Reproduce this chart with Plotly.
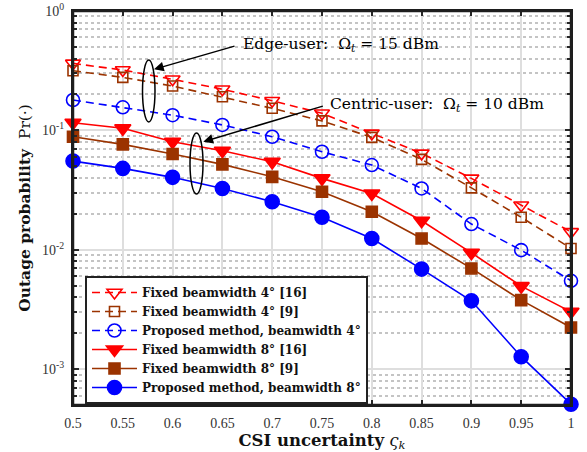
import plotly.graph_objects as go

x_vals = [0.5, 0.55, 0.6, 0.65, 0.7, 0.75, 0.8, 0.85, 0.9, 0.95, 1.0]
x_labels = ["0.5", "0.55", "0.6", "0.65", "0.7", "0.75", "0.8", "0.85", "0.9", "0.95", "1"]
y_tickvals = [1e-3, 1e-2, 1e-1, 1]
y_ticktext = ["10<sup>-3</sup>", "10<sup>-2</sup>", "10<sup>-1</sup>", "10<sup>0</sup>"]

fixed4_16 = [0.364, 0.320, 0.268, 0.221, 0.177, 0.139, 0.0944, 0.0642, 0.0396, 0.0236, 0.0141]
fixed4_9 = [0.316, 0.278, 0.235, 0.191, 0.153, 0.120, 0.0874, 0.0571, 0.0330, 0.0187, 0.01025]
prop4 = [0.1795, 0.156, 0.134, 0.111, 0.0884, 0.0662, 0.0512, 0.0326, 0.0164, 0.00992, 0.00549]
fixed8_16 = [0.1158, 0.104, 0.0802, 0.0675, 0.0545, 0.0396, 0.0296, 0.0175, 0.00942, 0.00495, 0.00302]
fixed8_9 = [0.0884, 0.0763, 0.0633, 0.0519, 0.0408, 0.0306, 0.0208, 0.0124, 0.00697, 0.00378, 0.00223]
prop8 = [0.0553, 0.0480, 0.0404, 0.0326, 0.0252, 0.0187, 0.0124, 0.00688, 0.00373, 0.00127, 0.000508]

names = [
    "<b>Fixed beamwidth 4° [16]</b>",
    "<b>Fixed beamwidth 4° [9]</b>",
    "<b>Proposed method, beamwidth 4°</b>",
    "<b>Fixed beamwidth 8° [16]</b>",
    "<b>Fixed beamwidth 8° [9]</b>",
    "<b>Proposed method, beamwidth 8°</b>",
]
series = [fixed4_16, fixed4_9, prop4, fixed8_16, fixed8_9, prop8]

RED = "#ff0000"
BROWN = "#9b3300"
BLUE = "#0000ff"
colors = [RED, BROWN, BLUE, RED, BROWN, BLUE]
symbols = ["triangle-down-open", "square-open", "circle-open",
           "triangle-down", "square", "circle"]
sizes = [13, 10, 13, 14, 11, 14]
dashes = ["8px,5px", "8px,5px", "8px,5px", "solid", "solid", "solid"]

fig = go.Figure()
for name, ys, c, s, sz, d in zip(names, series, colors, symbols, sizes, dashes):
    fig.add_trace(go.Scatter(
        x=x_vals, y=ys, name=name, mode="lines+markers",
        line=dict(color=c, width=1.6, dash=d),
        marker=dict(symbol=s, size=sz, color=c, line=dict(color=c, width=1.6)),
        cliponaxis=False,
    ))

L, R, T, B = 73, 16, 11, 47
W, H = 587, 452
pw, ph = W - L - R, H - T - B


def px(xp):
    return (xp - L) / pw


def py(yp):
    return (H - B - yp) / ph


# plot frame
fig.add_shape(type="rect", xref="paper", yref="paper", x0=0, x1=1, y0=0, y1=1,
              line=dict(color="#1e1e1e", width=2.5), layer="above")

# ellipses
for x0, x1, y0, y1 in [(142.5, 155, 60, 122), (190, 203, 133, 194)]:
    fig.add_shape(type="circle", xref="paper", yref="paper",
                  x0=px(x0), x1=px(x1), y0=py(y1), y1=py(y0),
                  line=dict(color="black", width=1.5))

# arrows
for tip, tail in [((154, 69.3), (236, 45.7)), ((203.3, 141.7), (324.3, 105.7))]:
    fig.add_annotation(xref="paper", yref="paper", x=px(tip[0]), y=py(tip[1]),
                       ax=tail[0] - tip[0], ay=tail[1] - tip[1],
                       showarrow=True, arrowhead=2, arrowsize=1.3, arrowwidth=1.5,
                       arrowcolor="black", text="")

SERIF = "DejaVu Serif"
fig.add_annotation(xref="paper", yref="paper", x=px(241), y=py(45), xanchor="left",
                   yanchor="middle", showarrow=False,
                   text="Edge-user:  Ω<sub><i>t</i></sub> = 15 dBm",
                   font=dict(family=SERIF, size=15.5, color="black"))
fig.add_annotation(xref="paper", yref="paper", x=px(328), y=py(105), xanchor="left",
                   yanchor="middle", showarrow=False,
                   text="Centric-user:  Ω<sub><i>t</i></sub> = 10 dBm",
                   font=dict(family=SERIF, size=15.5, color="black"))

fig.update_layout(
    width=W, height=H,
    margin=dict(l=L, r=R, t=T, b=B, autoexpand=False),
    paper_bgcolor="white", plot_bgcolor="white",
    font=dict(family="Liberation Serif", size=14, color="#333333"),
    showlegend=True,
    legend=dict(x=px(85), y=py(340), xanchor="left", yanchor="middle",
                bgcolor="white", bordercolor="#222222", borderwidth=2,
                font=dict(family=SERIF, size=12, color="#111111"),
                itemwidth=45, tracegroupgap=0),
)

fig.update_xaxes(
    range=[0.5, 1.0], tickmode="array", tickvals=x_vals, ticktext=x_labels,
    automargin=False,
    showline=True, linecolor="#1e1e1e", linewidth=2, mirror="allticks",
    ticks="inside", ticklen=5, tickwidth=2, tickcolor="#262626",
    showgrid=True, gridcolor="#dedede", gridwidth=2, zeroline=False,
    tickfont=dict(size=14), ticklabelstandoff=4,
    title=dict(text="<b>CSI uncertainty</b> <i>ς<sub>k</sub></i>", standoff=5,
               font=dict(family=SERIF, size=16.5, color="#111111")),
)

fig.update_yaxes(
    type="log", range=[-3.301, 0],
    tickmode="array", tickvals=y_tickvals, ticktext=y_ticktext,
    automargin=False,
    showline=True, linecolor="#1e1e1e", linewidth=2, mirror="allticks",
    ticks="inside", ticklen=6, tickwidth=2, tickcolor="#262626",
    showgrid=True, gridcolor="#dedede", gridwidth=2, zeroline=False,
    tickfont=dict(size=14), ticklabelstandoff=4,
    minor=dict(dtick="D1", ticks="inside", ticklen=4, tickwidth=1.5, tickcolor="#262626",
               showgrid=True, gridcolor="#c4c4c4", gridwidth=1.5, griddash="dot"),
    title=dict(text="<b>Outage probability</b>  Pr(·)", standoff=8,
               font=dict(family=SERIF, size=15.5, color="#111111")),
)

fig.write_html("out.html")
